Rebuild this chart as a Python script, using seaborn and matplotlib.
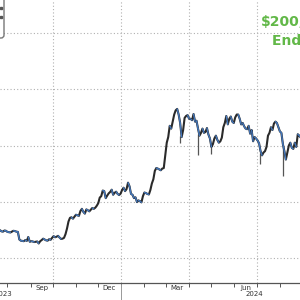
import numpy as np
import pandas as pd
import matplotlib
matplotlib.use("Agg")
import matplotlib.pyplot as plt
import matplotlib.dates as mdates
from matplotlib.patches import FancyBboxPatch, Rectangle
import seaborn as sns

# price series (thousand USD), sampled every 2 days from 2023-07-22
start_date = "2023-07-22"
step_days = 2
prices = [
    29.9, 29.5, 29.4, 29.8, 29.7, 29.3, 29.2, 29.1, 29.4, 29.7,
    29.6, 29.4, 29.3, 26.6, 26.2, 26.1, 26.0, 26.4, 26.1, 27.5,
    25.8, 26.0, 25.9, 25.7, 25.8, 25.9, 25.2, 26.0, 26.4, 26.9,
    26.6, 26.3, 26.2, 26.7, 26.5, 27.2, 27.8, 27.4, 27.6, 27.9,
    27.3, 26.8, 26.9, 27.2, 28.5, 30.5, 33.0, 34.3, 34.5, 34.0,
    34.7, 35.4, 35.2, 35.0, 36.7, 37.5, 36.4, 35.8, 37.3, 37.0,
    36.6, 37.2, 37.8, 37.5, 37.9, 38.6, 39.5, 41.5, 42.0, 44.0,
    43.8, 41.3, 42.2, 43.0, 43.5, 44.3, 42.5, 43.2, 43.6, 42.8,
    42.4, 42.9, 44.2, 45.0, 43.8, 44.5, 46.8, 45.5, 42.8, 42.5,
    41.3, 41.6, 39.9, 40.5, 40.2, 39.8, 42.0, 43.3, 43.1, 42.8,
    42.6, 44.2, 46.5, 48.0, 51.0, 52.0, 51.8, 51.5, 51.2, 51.8,
    52.0, 56.5, 61.0, 63.0, 67.0, 66.0, 68.5, 71.0, 72.5, 73.0,
    71.0, 68.0, 63.0, 65.5, 69.8, 70.5, 70.8, 69.5, 69.5, 69.0,
    71.2, 68.5, 68.8, 66.0, 63.5, 64.5, 66.0, 64.5, 64.8, 66.2,
    63.9, 62.5, 59.5, 60.5, 62.5, 63.5, 62.0, 61.0, 61.5, 62.8,
    66.5, 68.0, 70.5, 67.5, 69.5, 70.3, 68.5, 68.0, 70.0, 71.0,
    71.0, 69.5, 67.5, 68.0, 66.8, 66.0, 65.8, 67.0, 64.2, 65.5,
    61.5, 63.0, 62.5, 61.8, 60.8, 58.0, 56.5, 57.5, 58.0, 59.5,
    63.5, 64.5, 66.5, 65.5, 67.8, 68.5, 68.0, 66.5, 65.0, 64.5,
    60.5, 58.0, 55.0, 57.5, 60.0, 61.0, 59.2, 58.8, 61.0, 59.5,
    64.0, 63.5, 62.8,
]
# a few intraday low wicks
wick_dates = ["2024-01-11", "2024-03-20", "2024-04-13", "2024-05-01", "2024-07-05", "2024-08-05"]
wick_lows = [48.7, 61.0, 56.5, 57.0, 53.6, 49.0]
wick_highs = [48.9, 63.5, 64.0, 60.0, 57.5, 60.0]

grid_levels = [20, 40, 60, 80, 100]
grid_dates = ["2023-10-01", "2024-01-01", "2024-04-01", "2024-07-01"]
month_labels = {"2023-09-16": "Sep", "2023-12-16": "Dec", "2024-03-16": "Mar", "2024-06-16": "Jun"}
year_labels = {"2023-07-26": "2023", "2024-06-28": "2024"}

dates = pd.date_range(start_date, periods=len(prices), freq=f"{step_days}D")
df = pd.DataFrame({"date": dates, "price": prices})

sns.set_style("white")
plt.rcParams["font.family"] = ["DejaVu Sans"]

fig = plt.figure(figsize=(3, 3), dpi=100)
ax = fig.add_axes([0, 17 / 300, 1, 283 / 300])

for lv in grid_levels:
    ax.axhline(lv, color="#b0b0b0", lw=0.8, ls=(0, (1, 2)), zorder=0)
for gd in grid_dates:
    ax.axvline(pd.Timestamp(gd), color="#b0b0b0", lw=0.8, ls=(0, (1, 2)), zorder=0)

ax.vlines(pd.to_datetime(wick_dates), wick_lows, wick_highs, color="#555555", lw=0.9, zorder=2)
sns.lineplot(data=df, x="date", y="price", ax=ax, color="#2a2a2a", lw=1.5, zorder=3)

# blue segments on down-moves
down = df["price"].diff().shift(-1) < 0
for i in range(len(df) - 1):
    if down.iloc[i]:
        ax.plot(df["date"].iloc[i:i + 2], df["price"].iloc[i:i + 2], color="#4477bb", lw=1.0, zorder=4)

ax.set_xlim(pd.Timestamp("2023-07-22"), pd.Timestamp("2024-08-28"))
ax.set_ylim(11.15, 111.7)

for s in ["top", "left", "right"]:
    ax.spines[s].set_visible(False)
ax.spines["bottom"].set_color("#555555")
ax.spines["bottom"].set_linewidth(0.9)

ax.set_yticks([])
ax.xaxis.set_major_locator(mdates.MonthLocator())
ax.xaxis.set_major_formatter(plt.NullFormatter())
ax.tick_params(axis="x", which="major", length=3, width=0.7, color="#555555", direction="out", bottom=True)
ax.set_xlabel("")
ax.set_ylabel("")

for d, lab in month_labels.items():
    ax.text(pd.Timestamp(d), -0.008, lab, transform=ax.get_xaxis_transform(),
            ha="center", va="top", fontsize=5, color="#333333")
for d, lab in year_labels.items():
    ax.text(pd.Timestamp(d), -0.03, lab, transform=ax.get_xaxis_transform(),
            ha="center", va="top", fontsize=5, color="#333333")
ax.plot([pd.Timestamp("2024-01-01")] * 2, [-0.005, -0.07], transform=ax.get_xaxis_transform(),
        color="#999999", lw=0.7, clip_on=False)

fig.text(261 / 300, 1 - 22 / 300, "$200,000", ha="left", va="center",
         fontsize=10, fontweight="bold", color="#62b848")
fig.text(272 / 300, 1 - 41 / 300, "End of 2024", ha="left", va="center",
         fontsize=10, fontweight="bold", color="#62b848")

# clipped legend box at top-left
fig.patches.append(FancyBboxPatch((-30 / 300, 1 - 38 / 300), 34 / 300, 45 / 300,
                                  boxstyle="round,pad=0,rounding_size=0.01",
                                  transform=fig.transFigure, fc="white", ec="#777777", lw=1.0))
fig.patches.append(Rectangle((0, 1 - 9 / 300), 2 / 300, 2 / 300, transform=fig.transFigure, color="#555555"))
fig.patches.append(Rectangle((0, 1 - 18 / 300), 2 / 300, 2 / 300, transform=fig.transFigure, color="#555555"))

fig.savefig("out.png", dpi=100, facecolor="white")
